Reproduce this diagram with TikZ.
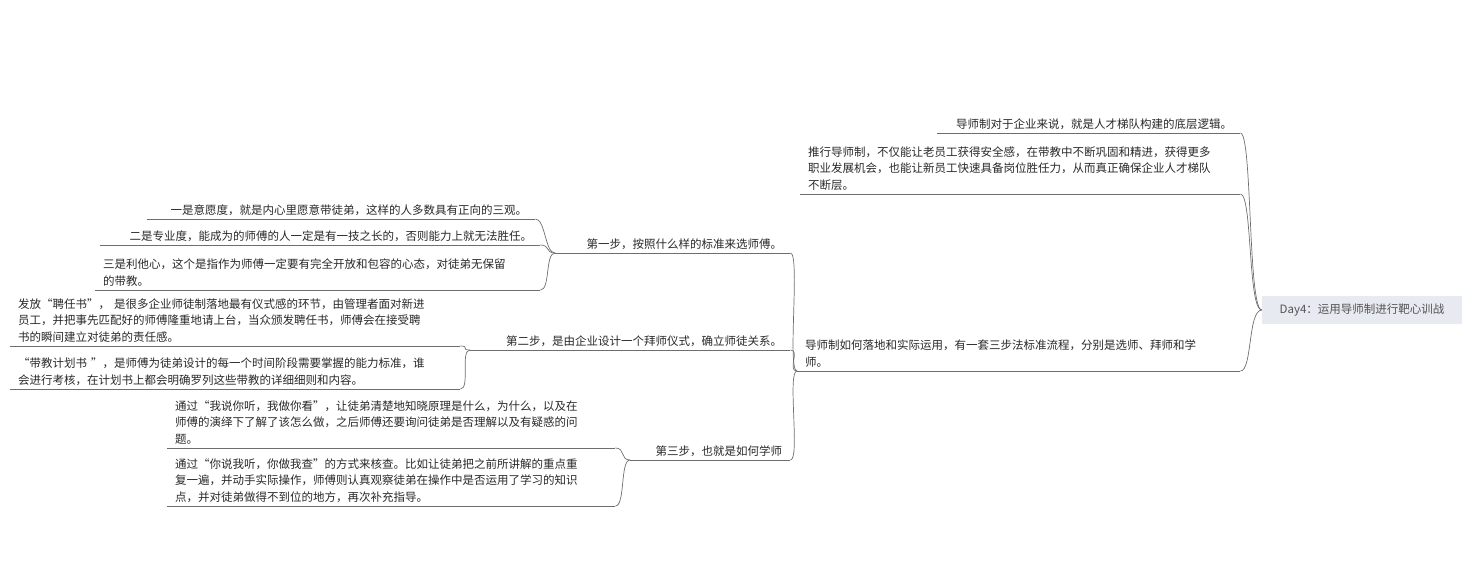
\documentclass[tikz,border=0pt]{standalone}
\usepackage{fontspec}
\setmainfont{Noto Sans CJK SC}
\usetikzlibrary{positioning}
\definecolor{linegray}{RGB}{110,110,110}
\definecolor{textgray}{RGB}{40,40,40}
\definecolor{rootfill}{RGB}{232,234,242}
\tikzset{
  leaf/.style={anchor=south west, align=left, inner xsep=8pt, inner ysep=3.5pt,
    font=\fontsize{11.5}{16.5}\selectfont, text=textgray},
  rootbox/.style={fill=rootfill, minimum width=200pt, minimum height=28pt,
    font=\fontsize{11.5}{14}\selectfont, text=textgray!80},
  uline/.style={draw=linegray, line width=0.9pt},
  link/.style={draw=linegray, line width=0.7pt}
}
\begin{document}
\begin{tikzpicture}[x=1pt,y=-1pt]
    \useasboundingbox (0,0) rectangle (1467,572);
    % Radice
    \node[rootbox] (root) at (1362,310) {Day4：运用导师制进行靶心训战};

    % Primo livello
    \node[leaf, text width=287pt] (a1) at (937,133) {\hfill 导师制对于企业来说，就是人才梯队构建的底层逻辑。};
    \node[leaf, text width=424pt] (a2) at (800,194) {推行导师制，不仅能让老员工获得安全感，在带教中不断巩固和精进，获得更多\\职业发展机会，也能让新员工快速具备岗位胜任力，从而真正确保企业人才梯队\\不断层。};
    \node[leaf, text width=427pt] (a3) at (797,371) {导师制如何落地和实际运用，有一套三步法标准流程，分别是选师、拜师和学\\师。};

    % Tre passi
    \node[leaf, text width=219pt] (s1) at (555,253) {\hfill 第一步，按照什么样的标准来选师傅。};
    \node[leaf, text width=304pt] (s2) at (470,350) {\hfill 第二步，是由企业设计一个拜师仪式，确立师徒关系。};
    \node[leaf, text width=144pt] (s3) at (630,460) {\hfill 第三步，也就是如何学师};

    % Foglie del primo passo
    \node[leaf, text width=372pt] (b1) at (147,219) {\hfill 一是意愿度，就是内心里愿意带徒弟，这样的人多数具有正向的三观。};
    \node[leaf, text width=424pt] (b2) at (100,245) {\hfill 二是专业度，能成为的师傅的人一定是有一技之长的，否则能力上就无法胜任。};
    \node[leaf, text width=429pt] (b3) at (95,290) {三是利他心，这个是指作为师傅一定要有完全开放和包容的心态，对徒弟无保留\\的带教。};

    % Foglie del secondo passo
    \node[leaf, text width=434pt] (c1) at (10,346) {发放“聘任书”， 是很多企业师徒制落地最有仪式感的环节，由管理者面对新进\\员工，并把事先匹配好的师傅隆重地请上台，当众颁发聘任书，师傅会在接受聘\\书的瞬间建立对徒弟的责任感。};
    \node[leaf, text width=434pt] (c2) at (10,389) {“带教计划书 ”，是师傅为徒弟设计的每一个时间阶段需要掌握的能力标准，谁\\会进行考核，在计划书上都会明确罗列这些带教的详细细则和内容。};

    % Foglie del terzo passo
    \node[leaf, text width=432pt] (d1) at (167,448) {通过“我说你听，我做你看”，让徒弟清楚地知晓原理是什么，为什么，以及在\\师傅的演绎下了解了该怎么做，之后师傅还要询问徒弟是否理解以及有疑惑的问\\题。};
    \node[leaf, text width=432pt] (d2) at (167,506) {通过“你说我听，你做我查”的方式来核查。比如让徒弟把之前所讲解的重点重\\复一遍，并动手实际操作，师傅则认真观察徒弟在操作中是否运用了学习的知识\\点，并对徒弟做得不到位的地方，再次补充指导。};

    % Sottolineature
    \foreach \n in {a1,a2,a3,s1,s2,s3,b1,b2,b3,c1,c2,d1,d2}
        \draw[uline] (\n.south west) -- (\n.south east);

    % Collegamenti
    \foreach \c in {a1,a2,a3}
        \draw[link] (root.west) .. controls +(-14,0) and +(12,0) .. (\c.south east);
    \foreach \p/\c in {a3/s1,a3/s2,a3/s3,s1/b1,s1/b2,s1/b3,s2/c1,s2/c2,s3/d1,s3/d2}
        \draw[link] (\p.south west) .. controls +(-10,0) and +(10,0) .. (\c.south east);
\end{tikzpicture}
\end{document}
